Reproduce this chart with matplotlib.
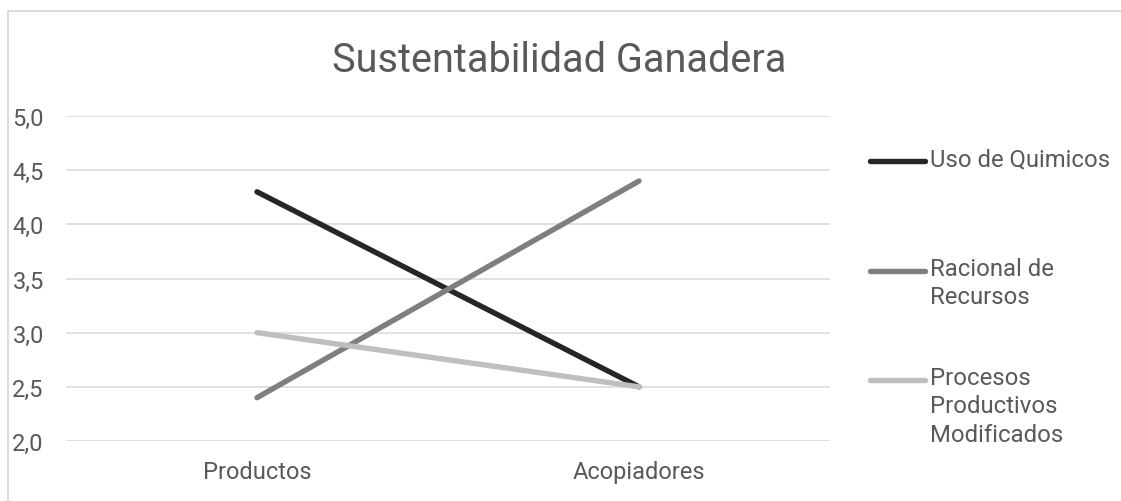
import matplotlib

matplotlib.use("Agg")
import matplotlib.pyplot as plt
from matplotlib.lines import Line2D
from matplotlib.patches import Rectangle
from matplotlib.ticker import FuncFormatter

plt.rcParams["font.family"] = ["Roboto", "DejaVu Sans"]

categories = ["Productos", "Acopiadores"]
series_names = ["Uso de Quimicos", "Racional de\nRecursos", "Procesos\nProductivos\nModificados"]
uso_quimicos = [4.3, 2.5]
racional_recursos = [2.4, 4.4]
procesos_modificados = [3.0, 2.5]
colors = ["#262626", "#7f7f7f", "#bfbfbf"]

W, H = 1121, 502
fig = plt.figure(figsize=(W / 100, H / 100), dpi=100)
fig.patch.set_facecolor("white")

# marco del gráfico (sólo borde superior e izquierdo visibles)
fig.add_artist(Rectangle((7.5 / W, -0.1), 1.5, 1 - 11.5 / H + 0.1, transform=fig.transFigure,
                         fill=False, ec="#d9d9d9", lw=1.3))

ax = fig.add_axes([66 / W, 1 - 442 / H, (830 - 66) / W, (442 - 117) / H])
x = range(len(categories))
for vals, c in zip([uso_quimicos, racional_recursos, procesos_modificados], colors):
    ax.plot(x, vals, color=c, lw=3.9, solid_capstyle="round", zorder=3)

ax.set_xlim(-0.5, 1.5)
ax.set_ylim(2.0, 5.0)
ax.set_yticks([2.0, 2.5, 3.0, 3.5, 4.0, 4.5, 5.0])
ax.yaxis.set_major_formatter(FuncFormatter(lambda v, p: f"{v:.1f}".replace(".", ",")))
ax.set_xticks(list(x))
ax.set_xticklabels(categories)
ax.grid(axis="y", color="#d9d9d9", lw=1.1)
ax.set_axisbelow(True)
for s in ax.spines.values():
    s.set_visible(False)
ax.tick_params(axis="both", length=0, labelsize=17, labelcolor="#595959")
ax.tick_params(axis="y", pad=16)
ax.tick_params(axis="x", pad=14)

fig.text(559 / W, 1 - 60 / H, "Sustentabilidad Ganadera", ha="center", va="center",
         fontsize=28.5, color="#595959")

# leyenda manual
legend_y = [162, 272, 381]
for name, c, ly in zip(series_names, colors, legend_y):
    fig.add_artist(Line2D([870 / W, 925 / W], [1 - ly / H, 1 - ly / H], transform=fig.transFigure,
                          color=c, lw=3.9, solid_capstyle="round"))
    fig.text(930 / W, 1 - (ly - 14) / H, name, ha="left", va="top", fontsize=17.2,
             color="#595959", linespacing=1.3)

fig.savefig("out.png", dpi=100)
